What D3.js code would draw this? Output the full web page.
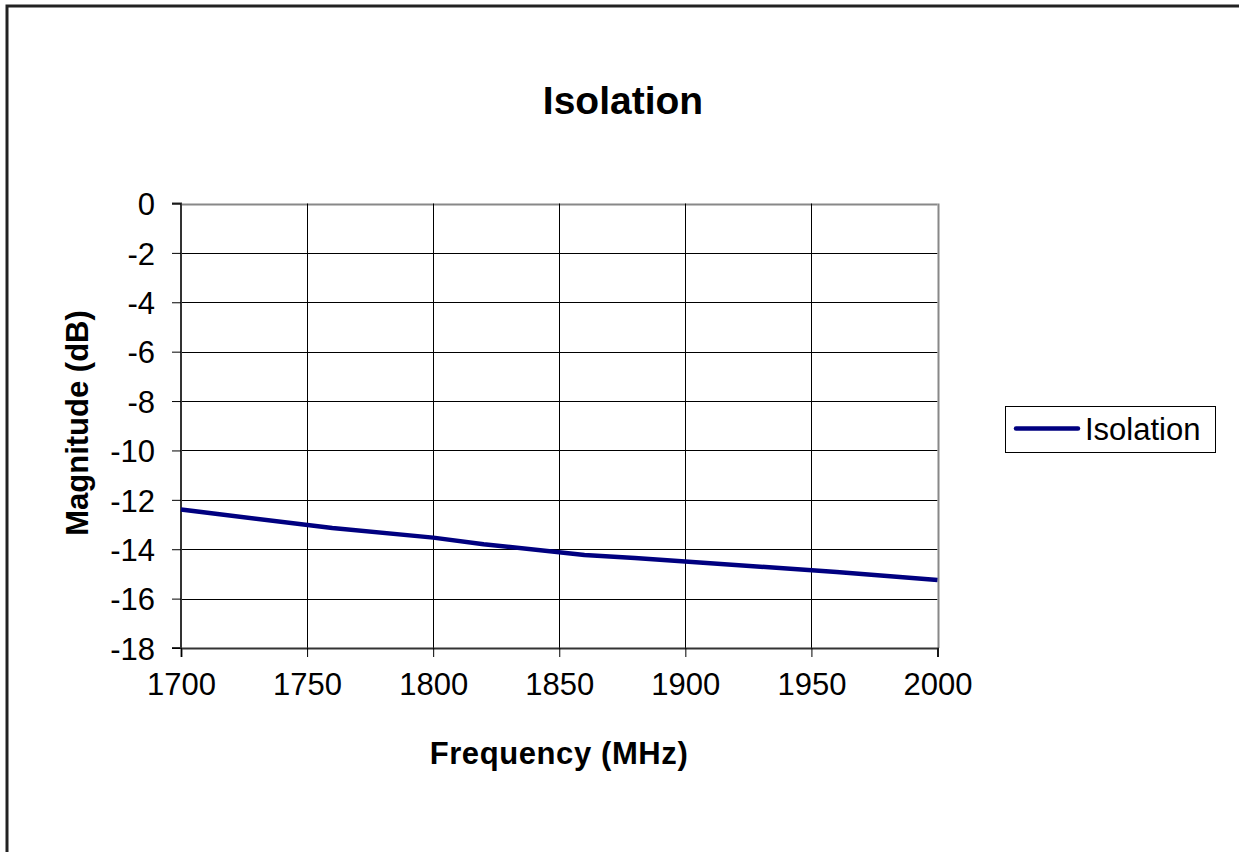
<!DOCTYPE html>
<html>
<head>
<meta charset="utf-8">
<script src="https://cdn.jsdelivr.net/npm/d3@7"></script>
<style>
  html, body { margin: 0; padding: 0; background: #fff; }
  svg { display: block; font-family: "Liberation Sans", Arial, sans-serif; }
</style>
</head>
<body>
<svg id="chart" width="1239" height="852"></svg>
<script>
// ---- data ----
const chartTitle = "Isolation";
const xAxisTitle = "Frequency (MHz)";
const yAxisTitle = "Magnitude (dB)";
const seriesName = "Isolation";
const frequencies = [1700, 1760, 1800, 1820, 1860, 1880, 1960, 2000];
const isolationDb = [-12.39, -13.14, -13.53, -13.80, -14.23, -14.36, -14.92, -15.25];
const xTicks = [1700, 1750, 1800, 1850, 1900, 1950, 2000];
const yTicks = [0, -2, -4, -6, -8, -10, -12, -14, -16, -18];

// ---- layout ----
const svg = d3.select("#chart");
const plot = { left: 181, top: 203.5, right: 937.5, bottom: 648 };

const x = d3.scaleLinear().domain([1700, 2000]).range([plot.left, plot.right]);
const y = d3.scaleLinear().domain([-18, 0]).range([plot.bottom, plot.top]);

// outer chart border
svg.append("rect")
  .attr("x", 7).attr("y", 6).attr("width", 1300).attr("height", 900)
  .attr("fill", "#fff").attr("stroke", "#222").attr("stroke-width", 3);

// gridlines
svg.append("g").selectAll("line.h").data(yTicks).join("line")
  .attr("x1", plot.left).attr("x2", plot.right)
  .attr("y1", d => Math.round(y(d)) + 0.5).attr("y2", d => Math.round(y(d)) + 0.5)
  .attr("stroke", d => d === 0 ? "#888" : "#000").attr("stroke-width", d => d === 0 ? 2 : 1);
svg.append("g").selectAll("line.v").data(xTicks).join("line")
  .attr("y1", plot.top).attr("y2", plot.bottom)
  .attr("x1", d => Math.round(x(d)) + 0.5).attr("x2", d => Math.round(x(d)) + 0.5)
  .attr("stroke", d => d === 2000 ? "#888" : "#000").attr("stroke-width", d => d === 2000 ? 2 : 1);

// axes
const fmt = d => String(d);
const yAxis = d3.axisLeft(y).tickValues(yTicks).tickSize(9).tickPadding(17).tickFormat(fmt);
const xAxis = d3.axisBottom(x).tickValues(xTicks).tickSize(9).tickPadding(16).tickFormat(fmt);

const gy = svg.append("g").attr("transform", `translate(${plot.left},0)`).call(yAxis);
const gx = svg.append("g").attr("transform", `translate(0,${plot.bottom})`).call(xAxis);
[gx, gy].forEach(g => {
  g.select(".domain").attr("stroke", "#333").attr("stroke-width", 2);
  g.selectAll(".tick line").attr("stroke", "#000").attr("stroke-width", 1);
  g.selectAll(".tick text").attr("fill", "#000")
    .style("font-family", "'Liberation Sans', Arial, sans-serif").style("font-size", "31px");
});
gy.select(".domain").attr("d", `M-9,${plot.top}H0V${plot.bottom}H-9`);
gy.selectAll(".tick text").attr("dy", "0.36em");
gx.selectAll(".tick text").attr("dy", "0.72em");

// series line
const line = d3.line().x((d, i) => x(frequencies[i])).y(d => y(d));
svg.append("path").datum(isolationDb)
  .attr("d", line).attr("fill", "none")
  .attr("stroke", "#000080").attr("stroke-width", 4.5)
  .attr("stroke-linejoin", "round").attr("stroke-linecap", "butt");

// titles
svg.append("text").attr("x", 623).attr("y", 114).attr("text-anchor", "middle")
  .style("font-size", "39px").style("font-weight", "bold").text(chartTitle);
svg.append("text").attr("x", 559).attr("y", 764).attr("text-anchor", "middle")
  .style("font-size", "31px").style("font-weight", "bold").style("letter-spacing", "0.6px").text(xAxisTitle);
svg.append("text").attr("transform", "translate(88,423) rotate(-90)").attr("text-anchor", "middle")
  .style("font-size", "31px").style("font-weight", "bold").text(yAxisTitle);

// legend
const lg = svg.append("g");
lg.append("rect").attr("x", 1005.5).attr("y", 406.5).attr("width", 210).attr("height", 46)
  .attr("fill", "#fff").attr("stroke", "#000").attr("stroke-width", 1);
lg.append("line").attr("x1", 1016).attr("x2", 1078).attr("y1", 428.5).attr("y2", 428.5)
  .attr("stroke", "#000080").attr("stroke-width", 4.5).attr("stroke-linecap", "round");
lg.append("text").attr("x", 1085).attr("y", 440)
  .style("font-size", "31px").text(seriesName);
</script>
</body>
</html>
